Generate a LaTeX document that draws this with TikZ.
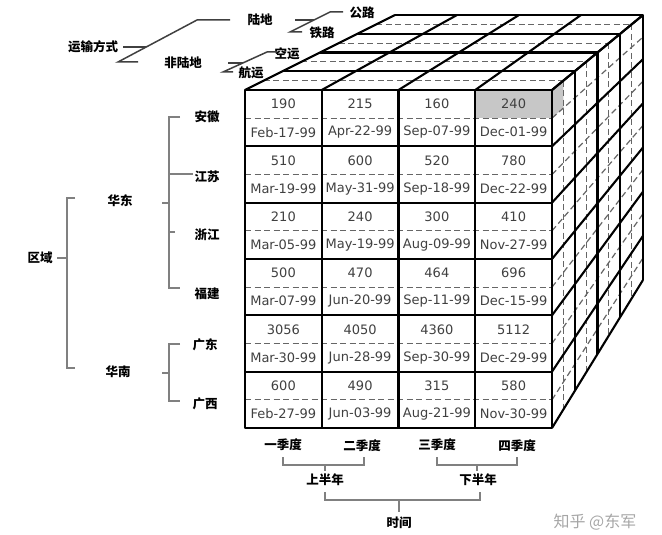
\documentclass[tikz,border=0pt]{standalone}
\usepackage{fontspec}
\setmainfont{DejaVu Sans}
\newfontfamily\cjk{Noto Sans CJK SC}
\begin{document}
\begin{tikzpicture}[x=1pt,y=-1pt,
  cubeline/.style={line width=2.1pt,black,line join=round},
  dashline/.style={line width=1.2pt,black!60,dash pattern=on 6pt off 3.5pt},
  brk/.style={line width=1.7pt,black!50},
  brkd/.style={line width=1.5pt,black!75},
  lab/.style={font=\cjk\bfseries\fontsize{12.5}{12.5}\selectfont,inner sep=0pt},
  val/.style={font=\fontsize{13}{13}\selectfont,text=black!75,inner sep=0pt}]
\useasboundingbox (0,0) rectangle (662,535);
% ---------- shaded sub-cell ----------
\fill[black!22] (475,90) rectangle (552,118);
\fill[black!22] (552,90) -- (563.4,80.6) -- (563.4,108) -- (552,118) -- cycle;
% ---------- top and side faces ----------
\foreach \k in {0.5,1.5,2.5,3.5}{
  \pgfmathsetmacro\L{245+37.5*\k}\pgfmathsetmacro\R{552+22.75*\k}
  \pgfmathsetmacro\T{90-18.75*\k}\pgfmathsetmacro\B{428-37*\k}
  \draw[dashline] (\L,\T) -- (\R,\T);
  \draw[dashline] (\R,\T) -- (\R,\B);
}
\foreach \i in {0,...,5}{
  \draw[dashline] (552,{90+(\i+0.5)*56.333}) -- (643,{15+(\i+0.5)*44.167});
}
\foreach \k in {1,...,4}{
  \pgfmathsetmacro\L{245+37.5*\k}\pgfmathsetmacro\R{552+22.75*\k}
  \pgfmathsetmacro\T{90-18.75*\k}\pgfmathsetmacro\B{428-37*\k}
  \draw[cubeline] (\L,\T) -- (\R,\T) -- (\R,\B);
}
\foreach \j in {0,...,4}{
  \draw[cubeline] ({245+\j*76.75},90) -- ({395+\j*62},15);
}
\foreach \i in {0,...,6}{
  \draw[cubeline] (552,{90+\i*56.333}) -- (643,{15+\i*44.167});
}
% ---------- front face ----------
\foreach \i in {0,...,5}{
  \draw[dashline] (245,{90+(\i+0.5)*56.333}) -- (552,{90+(\i+0.5)*56.333});
}
\foreach \i in {1,...,5}{
  \draw[cubeline] (245,{90+\i*56.333}) -- (552,{90+\i*56.333});
}
\foreach \j in {1,...,3}{
  \draw[cubeline] ({245+\j*76.75},90) -- ({245+\j*76.75},428);
}
\draw[cubeline] (245,90) rectangle (552,428);
% ---------- cell texts ----------
\foreach \row/\vals in {
  0/{190/Feb-17-99,215/Apr-22-99,160/Sep-07-99,240/Dec-01-99},
  1/{510/Mar-19-99,600/May-31-99,520/Sep-18-99,780/Dec-22-99},
  2/{210/Mar-05-99,240/May-19-99,300/Aug-09-99,410/Nov-27-99},
  3/{500/Mar-07-99,470/Jun-20-99,464/Sep-11-99,696/Dec-15-99},
  4/{3056/Mar-30-99,4050/Jun-28-99,4360/Sep-30-99,5112/Dec-29-99},
  5/{600/Feb-27-99,490/Jun-03-99,315/Aug-21-99,580/Nov-30-99}}{
  \foreach \v/\d [count=\c from 0] in \vals {
    \node[val] (v-\row-\c) at ({245+(\c+0.5)*76.75},{90+(\row+0.25)*56.333}) {\v};
    \node[val] (d-\row-\c) at ({245+(\c+0.5)*76.75},{90+(\row+0.75)*56.333}) {\d};
  }
}
% ---------- top-left tree ----------
\node[lab] (ysfs) at (93,47) {运输方式};
\node[lab] (ld) at (260,20) {陆地};
\node[lab] (fld) at (183,63) {非陆地};
\node[lab] (gl) at (362,13) {公路};
\node[lab] (tl) at (322,33) {铁路};
\node[lab] (ky) at (287,54) {空运};
\node[lab] (hy) at (251,73) {航运};
\draw[brkd] (123,47) -- (146,47);
\draw[brkd] (138,62) -- (118,62) -- (197,20) -- (230,20);
\draw[brkd] (295,20) -- (314,20);
\draw[brkd] (302,32) -- (290,32) -- (330,12) -- (343,12);
\draw[brkd] (228,63) -- (243,63);
\draw[brkd] (233,72) -- (223,72) -- (267,52) -- (277,52);
% ---------- left tree ----------
\node[lab] (qy) at (40,258) {区域};
\node[lab] (hd) at (120,201) {华东};
\node[lab] (hn) at (118,372) {华南};
\node[lab] (ah) at (207,117) {安徽};
\node[lab] (js) at (207,177) {江苏};
\node[lab] (zj) at (207,235) {浙江};
\node[lab] (fj) at (207,294) {福建};
\node[lab] (gd) at (205,345) {广东};
\node[lab] (gx) at (205,404) {广西};
\draw[brk] (57,258) -- (67,258);
\draw[brk] (75,198) -- (67,198) -- (67,368) -- (75,368);
\draw[brk] (162,203) -- (169,203);
\draw[brk] (180,117) -- (169,117) -- (169,288) -- (180,288);
\draw[brk] (169,174) -- (193,174);
\draw[brk] (169,232) -- (175,232);
\draw[brk] (162,373) -- (169,373);
\draw[brk] (180,344) -- (169,344) -- (169,401) -- (180,401);
% ---------- bottom tree ----------
\node[lab] (q1) at (283,445) {一季度};
\node[lab] (q2) at (362,446) {二季度};
\node[lab] (q3) at (437,445) {三季度};
\node[lab] (q4) at (517,446) {四季度};
\node[lab] (sbn) at (325,480) {上半年};
\node[lab] (xbn) at (478,480) {下半年};
\node[lab] (sj) at (399,523) {时间};
\draw[brk] (283,457) -- (283,465) -- (364,465) -- (364,457);
\draw[brk] (325,465) -- (325,471);
\draw[brk] (437,457) -- (437,465) -- (517,465) -- (517,457);
\draw[brk] (477,465) -- (477,471);
\draw[brk] (325,492) -- (325,500) -- (480,500) -- (480,492);
\draw[brk] (399,500) -- (399,512);
% ---------- watermark ----------
\node[font=\cjk\fontsize{16}{16}\selectfont,text=black!35,inner sep=0pt] (wm) at (595,522) {知乎 @东军};
\end{tikzpicture}
\end{document}
